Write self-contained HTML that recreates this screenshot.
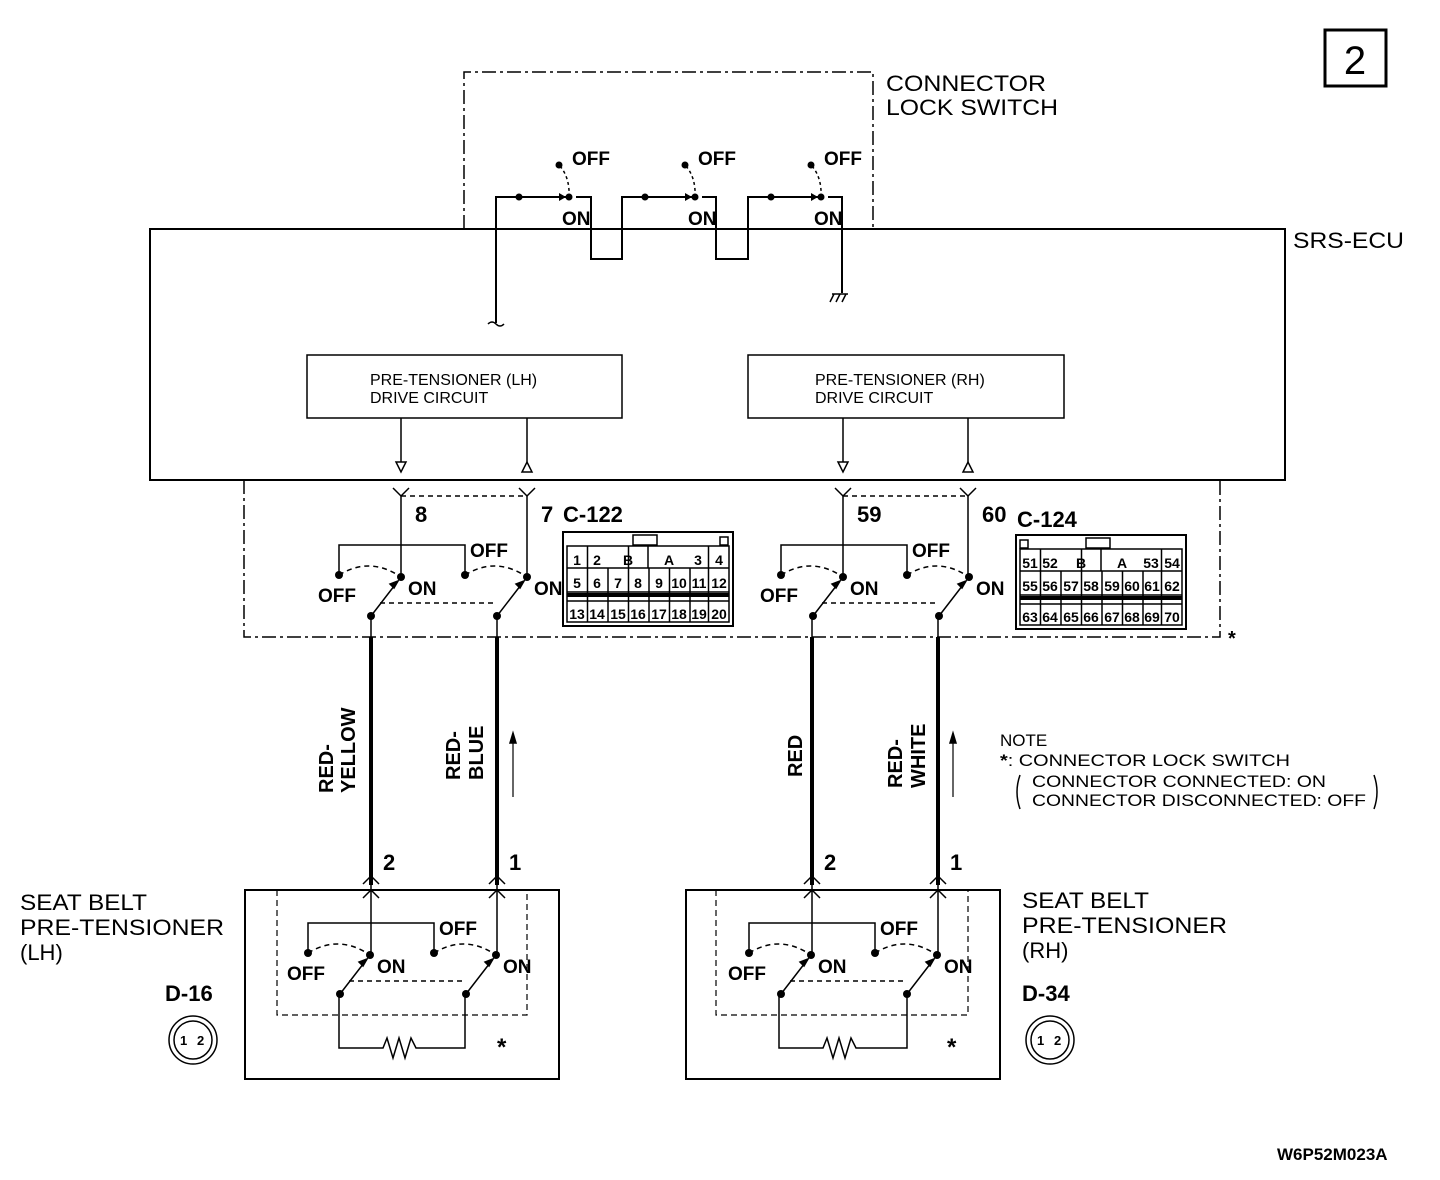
<!DOCTYPE html><html><head><meta charset="utf-8"><style>body{margin:0;background:#fff}svg{display:block}text{font-family:"Liberation Sans",sans-serif;fill:#000}.b{font-weight:bold}</style></head><body>
<svg width="1440" height="1180" viewBox="0 0 1440 1180" xmlns="http://www.w3.org/2000/svg">
<defs>
<g id="sw" fill="none" stroke="#000" stroke-width="1.5">
<path d="M339,575 V545 H465 V575"/>
<path d="M339,575 Q370,556 401,577 M465,575 Q496,556 527,577 M380,603 H497" stroke-dasharray="5,4"/>
<path d="M371,616 L398,581 M497,616 L524,581"/>
<path d="M398,581 l-8,3 l4,4z M524,581 l-8,3 l4,4z" fill="#000"/>
<g fill="#000" stroke="none"><circle cx="339" cy="575" r="4"/><circle cx="465" cy="575" r="4"/><circle cx="401" cy="577" r="4"/><circle cx="527" cy="577" r="4"/><circle cx="371" cy="616" r="4"/><circle cx="497" cy="616" r="4"/></g>
</g>
</defs>
<rect x="1325" y="30" width="61" height="56" fill="none" stroke="#000" stroke-width="3"/>
<text x="1355" y="74" font-size="40" text-anchor="middle">2</text>
<path d="M464,229 V72 H873 V229" fill="none" stroke="#000" stroke-width="1.5" stroke-dasharray="14,4,3,4"/>
<text x="886" y="91" font-size="22" textLength="160" lengthAdjust="spacingAndGlyphs">CONNECTOR</text>
<text x="886" y="115" font-size="22" textLength="172" lengthAdjust="spacingAndGlyphs">LOCK SWITCH</text>
<text x="1293" y="248" font-size="22" textLength="111" lengthAdjust="spacingAndGlyphs">SRS-ECU</text>
<rect x="150" y="229" width="1135" height="251" fill="none" stroke="#000" stroke-width="2"/>
<g fill="none" stroke="#000" stroke-width="2">
<path d="M496,323 V197 H567 M576,197 H591 V259 H622 V197 H693 M702,197 H716 V259 H748 V197 H819 M828,197 H842 V293"/>
<path d="M834,294 l-4,8 M840,294 l-4,8 M846,294 l-4,8 M832,294 H848" stroke-width="1.5"/>
<path d="M488,324 q4,-4 8,0 q4,4 8,0" stroke-width="1.5"/>
<path d="M560,166 Q570,178 569,197 M686,166 Q696,178 695,197 M812,166 Q822,178 821,197" stroke-dasharray="3,3" stroke-width="1.5"/>
</g>
<g fill="#000">
<circle cx="519" cy="197" r="3.5"/><circle cx="569" cy="197" r="3.5"/><circle cx="559" cy="165" r="3.5"/><path d="M559,193 l7,4 l-7,4z"/>
<circle cx="645" cy="197" r="3.5"/><circle cx="695" cy="197" r="3.5"/><circle cx="685" cy="165" r="3.5"/><path d="M685,193 l7,4 l-7,4z"/>
<circle cx="771" cy="197" r="3.5"/><circle cx="821" cy="197" r="3.5"/><circle cx="811" cy="165" r="3.5"/><path d="M811,193 l7,4 l-7,4z"/>
</g>
<g class="b" font-size="19">
<text x="572" y="165">OFF</text><text x="562" y="225">ON</text>
<text x="698" y="165">OFF</text><text x="688" y="225">ON</text>
<text x="824" y="165">OFF</text><text x="814" y="225">ON</text>
</g>
<g fill="none" stroke="#000" stroke-width="1.5">
<rect x="307" y="355" width="315" height="63"/><rect x="748" y="355" width="316" height="63"/>
<path d="M401,418 V462 M527,418 V462 M843,418 V462 M968,418 V462"/>
<path d="M396,462 h10 l-5,10z M522,472 h10 l-5,-10z M838,462 h10 l-5,10z M963,472 h10 l-5,-10z"/>
</g>
<g font-size="16"><text x="370" y="385">PRE-TENSIONER (LH)</text><text x="370" y="403">DRIVE CIRCUIT</text>
<text x="815" y="385">PRE-TENSIONER (RH)</text><text x="815" y="403">DRIVE CIRCUIT</text></g>
<path d="M244,480 V637 H1220 V480" fill="none" stroke="#000" stroke-width="1.5" stroke-dasharray="14,4,3,4"/>
<text x="1228" y="645" font-size="20" class="b">*</text>
<g fill="none" stroke="#000" stroke-width="1.5">
<path d="M401,496 V577 M527,496 V577 M843,496 V577 M968,496 V577"/>
<path d="M393,488 L401,496 L409,488 M519,488 L527,496 L535,488 M835,488 L843,496 L851,488 M960,488 L968,496 L976,488"/>
<path d="M401,496 H527 M843,496 H968" stroke-dasharray="5,4"/>
<path d="M371,616 V637 M497,616 V637 M812,616 V637 M938,616 V637"/>
<path d="M371,637 V885 M497,637 V885 M812,637 V885 M938,637 V885" stroke-width="4"/>
<path d="M363,884 L371,876 L379,884 M489,884 L497,876 L505,884 M804,884 L812,876 L820,884 M930,884 L938,876 L946,884"/>
<path d="M363,898 L371,890 L379,898 M489,898 L497,890 L505,898 M804,898 L812,890 L820,898 M930,898 L938,890 L946,898"/>
<path d="M371,885 V957 M497,885 V957 M812,885 V957 M938,885 V957"/>
<path d="M513,797 V735 M953,797 V735" stroke-width="1.2"/>
<path d="M510,743 l3,-10 l3,10z M950,743 l3,-10 l3,10z" fill="#000"/>
</g>
<use href="#sw"/>
<use href="#sw" transform="translate(442,0)"/>
<use href="#sw" transform="translate(-31,378)"/>
<use href="#sw" transform="translate(410,378)"/>
<g class="b" font-size="19">
<text x="318" y="602">OFF</text><text x="408" y="595">ON</text><text x="470" y="557">OFF</text><text x="534" y="595">ON</text>
<text x="760" y="602">OFF</text><text x="850" y="595">ON</text><text x="912" y="557">OFF</text><text x="976" y="595">ON</text>
<text x="287" y="980">OFF</text><text x="377" y="973">ON</text><text x="439" y="935">OFF</text><text x="503" y="973">ON</text>
<text x="728" y="980">OFF</text><text x="818" y="973">ON</text><text x="880" y="935">OFF</text><text x="944" y="973">ON</text>
</g>
<g class="b" font-size="22">
<text x="415" y="522">8</text><text x="541" y="522">7</text><text x="563" y="522">C-122</text>
<text x="857" y="522">59</text><text x="982" y="522">60</text><text x="1017" y="527">C-124</text>
<text x="383" y="870">2</text><text x="509" y="870">1</text><text x="824" y="870">2</text><text x="950" y="870">1</text>
<text x="165" y="1001">D-16</text><text x="1022" y="1001">D-34</text>
</g>
<g class="b" font-size="20">
<text transform="translate(333,793) rotate(-90)">RED-</text><text transform="translate(355,793) rotate(-90)">YELLOW</text>
<text transform="translate(460,780) rotate(-90)">RED-</text><text transform="translate(483,780) rotate(-90)">BLUE</text>
<text transform="translate(802,777) rotate(-90)">RED</text>
<text transform="translate(902,788) rotate(-90)">RED-</text><text transform="translate(925,788) rotate(-90)">WHITE</text>
</g>
<g fill="none" stroke="#000" stroke-width="1.5">
<rect x="563" y="532" width="170" height="94" stroke-width="2"/>
<rect x="633" y="535" width="24" height="10"/><rect x="720" y="537" width="8" height="8"/>
<path d="M567,546 H729 V622 H567Z M567,568 H729 M567,592 H729 M567,601 H729 M587.5,546 V622 M608,568 V622 M628.5,546 V622 M649,568 V622 M669.5,568 V622 M690,568 V622 M708.5,546 V622 M648,546 V568"/>
<rect x="1016" y="535" width="170" height="94" stroke-width="2"/>
<rect x="1086" y="538" width="24" height="10"/><rect x="1020" y="540" width="8" height="8"/>
<path d="M1020,549 H1182 V625 H1020Z M1020,571 H1182 M1020,595 H1182 M1020,604 H1182 M1040.5,549 V625 M1061,571 V625 M1081.5,549 V625 M1102,571 V625 M1122.5,571 V625 M1143,571 V625 M1161.5,549 V625 M1101,549 V571"/>
</g>
<rect x="567" y="593" width="162" height="4"/><rect x="1020" y="596" width="162" height="4"/>
<g class="b" font-size="14" text-anchor="middle">
<text x="577" y="565">1</text><text x="597" y="565">2</text><text x="628" y="565">B</text><text x="669" y="565">A</text><text x="698" y="565">3</text><text x="719" y="565">4</text>
<text x="577" y="588">5</text><text x="597" y="588">6</text><text x="618" y="588">7</text><text x="638" y="588">8</text><text x="659" y="588">9</text><text x="679" y="588">10</text><text x="699" y="588">11</text><text x="719" y="588">12</text>
<text x="577" y="619">13</text><text x="597" y="619">14</text><text x="618" y="619">15</text><text x="638" y="619">16</text><text x="659" y="619">17</text><text x="679" y="619">18</text><text x="699" y="619">19</text><text x="719" y="619">20</text>
<text x="1030" y="568">51</text><text x="1050" y="568">52</text><text x="1081" y="568">B</text><text x="1122" y="568">A</text><text x="1151" y="568">53</text><text x="1172" y="568">54</text>
<text x="1030" y="591">55</text><text x="1050" y="591">56</text><text x="1071" y="591">57</text><text x="1091" y="591">58</text><text x="1112" y="591">59</text><text x="1132" y="591">60</text><text x="1152" y="591">61</text><text x="1172" y="591">62</text>
<text x="1030" y="622">63</text><text x="1050" y="622">64</text><text x="1071" y="622">65</text><text x="1091" y="622">66</text><text x="1112" y="622">67</text><text x="1132" y="622">68</text><text x="1152" y="622">69</text><text x="1172" y="622">70</text>
</g>
<g fill="none" stroke="#000" stroke-width="2">
<rect x="245" y="890" width="314" height="189"/><rect x="686" y="890" width="314" height="189"/>
<path d="M277,890 V1015 H527 V890 M716,890 V1015 H968 V890" stroke-width="1.2" stroke-dasharray="6,4"/>
<path d="M339,994 V1048 H383 l4,-10 l6,20 l6,-20 l6,20 l6,-20 l5,10 H465 V994" stroke-width="1.5"/>
<path d="M779,994 V1048 H823 l4,-10 l6,20 l6,-20 l6,20 l6,-20 l5,10 H907 V994" stroke-width="1.5"/>
<circle cx="193" cy="1040" r="24" stroke-width="1.5"/><circle cx="193" cy="1040" r="19" stroke-width="1.5"/>
<circle cx="1050" cy="1040" r="24" stroke-width="1.5"/><circle cx="1050" cy="1040" r="19" stroke-width="1.5"/>
</g>
<g class="b" font-size="13"><text x="180" y="1045">1</text><text x="197" y="1045">2</text><text x="1037" y="1045">1</text><text x="1054" y="1045">2</text></g>
<text x="497" y="1055" font-size="24" class="b">*</text><text x="947" y="1055" font-size="24" class="b">*</text>
<g font-size="22"><text x="20" y="910" textLength="127" lengthAdjust="spacingAndGlyphs">SEAT BELT</text><text x="20" y="935" textLength="204" lengthAdjust="spacingAndGlyphs">PRE-TENSIONER</text><text x="20" y="960">(LH)</text>
<text x="1022" y="908" textLength="127" lengthAdjust="spacingAndGlyphs">SEAT BELT</text><text x="1022" y="933" textLength="205" lengthAdjust="spacingAndGlyphs">PRE-TENSIONER</text><text x="1022" y="958">(RH)</text></g>
<g font-size="17"><text x="1000" y="746">NOTE</text><text x="1000" y="766" textLength="290" lengthAdjust="spacingAndGlyphs"><tspan font-weight="bold">*</tspan>: CONNECTOR LOCK SWITCH</text>
<text x="1032" y="787" textLength="294" lengthAdjust="spacingAndGlyphs">CONNECTOR CONNECTED: ON</text><text x="1032" y="806" textLength="334" lengthAdjust="spacingAndGlyphs">CONNECTOR DISCONNECTED: OFF</text></g>
<path d="M1020,775 q-6,17 0,34 M1374,775 q6,17 0,34" fill="none" stroke="#000" stroke-width="1.5"/>
<text x="1277" y="1160" font-size="17" class="b">W6P52M023A</text>
</svg></body></html>
